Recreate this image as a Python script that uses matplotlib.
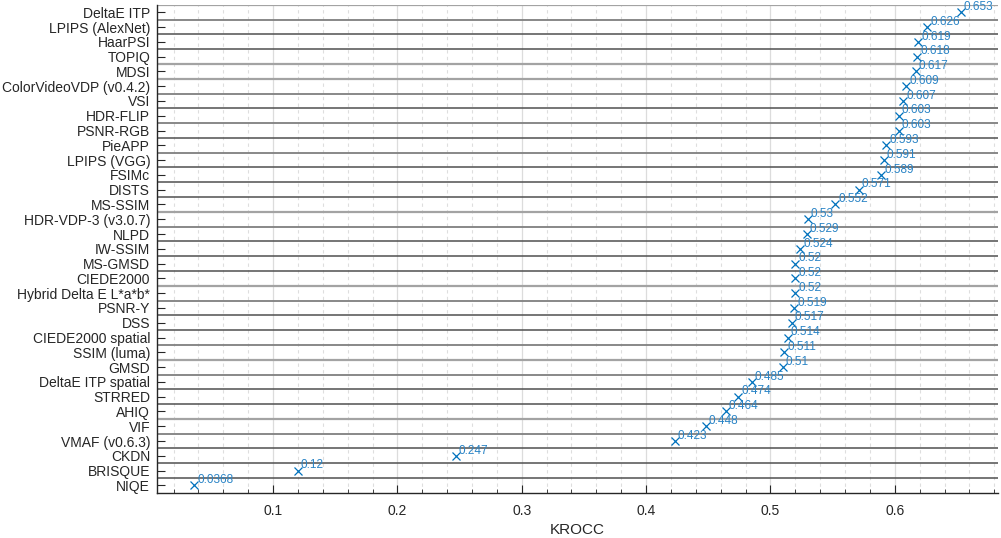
import matplotlib.pyplot as plt
from matplotlib.ticker import MultipleLocator

plt.rcParams['font.family'] = ['Liberation Sans', 'DejaVu Sans']

# metrics, top to bottom
metrics = [
    "DeltaE ITP", "LPIPS (AlexNet)", "HaarPSI", "TOPIQ", "MDSI",
    "ColorVideoVDP (v0.4.2)", "VSI", "HDR-FLIP", "PSNR-RGB", "PieAPP",
    "LPIPS (VGG)", "FSIMc", "DISTS", "MS-SSIM", "HDR-VDP-3 (v3.0.7)",
    "NLPD", "IW-SSIM", "MS-GMSD", "CIEDE2000", "Hybrid Delta E L*a*b*",
    "PSNR-Y", "DSS", "CIEDE2000 spatial", "SSIM (luma)", "GMSD",
    "DeltaE ITP spatial", "STRRED", "AHIQ", "VIF", "VMAF (v0.6.3)",
    "CKDN", "BRISQUE", "NIQE",
]
krocc = [
    0.653, 0.626, 0.619, 0.618, 0.617,
    0.609, 0.607, 0.603, 0.603, 0.593,
    0.591, 0.589, 0.571, 0.552, 0.53,
    0.529, 0.524, 0.52, 0.52, 0.52,
    0.519, 0.517, 0.514, 0.511, 0.51,
    0.485, 0.474, 0.464, 0.448, 0.423,
    0.247, 0.12, 0.0368,
]

# shade of the separator lines, from the top edge downward (L light, M mid, D dark)
sep_shades = "LMDDLLMDMDMDDDLMDDDLMDDMLMDDLMDDD"
shade_col = {'L': '#a3a3a3', 'M': '#7f7f7f', 'D': '#505050'}
shade_lw = {'L': 1.6, 'M': 1.3, 'D': 1.1}

blue = '#0072BD'

fig, ax = plt.subplots(figsize=(10.01, 5.38), dpi=100)
fig.subplots_adjust(left=0.157, right=0.997, top=0.991, bottom=0.084)

n = len(metrics)
ypos = list(range(1, n + 1))

# grid first
ax.xaxis.set_major_locator(MultipleLocator(0.1))
ax.xaxis.set_minor_locator(MultipleLocator(0.02))
ax.grid(True, axis='x', which='major', color='#dcdcdc', linewidth=0.9, zorder=0)
ax.grid(True, axis='x', which='minor', color='#dedede', linestyle=(0, (3, 3)),
        linewidth=0.8, zorder=0)
ax.set_axisbelow(True)

# separators between rows
for i, s in enumerate(sep_shades):
    ax.axhline(0.5 + i, color=shade_col[s], linewidth=shade_lw[s], zorder=1)

ax.plot(krocc, ypos, linestyle='none', marker='x', color=blue,
        markersize=5.5, markeredgewidth=0.9, zorder=3)
for v, y in zip(krocc, ypos):
    ax.annotate(f"{v:g}", (v, y), xytext=(2.2, -0.5), textcoords='offset points',
                ha='left', va='bottom', fontsize=8.5, color='#2a84c6', zorder=4)

ax.set_xlim(min(krocc) - 0.03, max(krocc) + 0.03)
ax.set_ylim(n + 0.5, 0.5)
ax.set_yticks(ypos)
ax.set_yticklabels(metrics)
ax.set_xlabel("KROCC", fontsize=11, color='#262626')

for side in ['top', 'right']:
    ax.spines[side].set_visible(False)
for side in ['left', 'bottom']:
    ax.spines[side].set_color('#262626')
    ax.spines[side].set_linewidth(1.0)
ax.tick_params(axis='both', which='both', direction='in', colors='#262626',
               labelsize=10)
ax.tick_params(axis='x', which='major', length=6)
ax.tick_params(axis='x', which='minor', length=3)
ax.tick_params(axis='y', length=6, pad=5)
ax.tick_params(axis='x', pad=8)

plt.savefig("out.png", dpi=100)
